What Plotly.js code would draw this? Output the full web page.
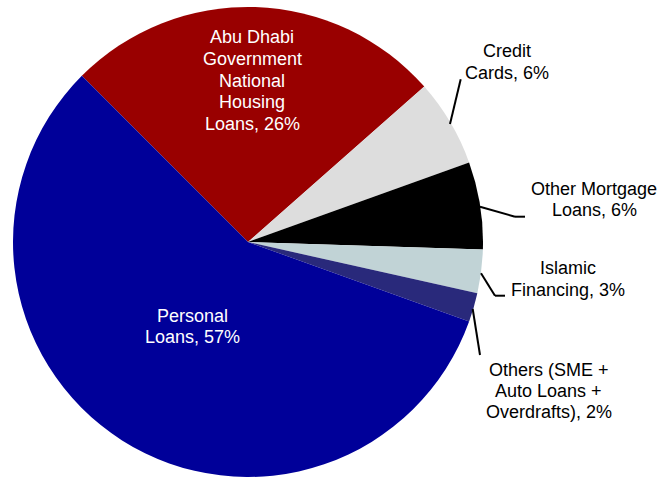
<!DOCTYPE html>
<html>
<head>
<meta charset="utf-8">
<script src="https://cdn.plot.ly/plotly-3.0.1.min.js"></script>
<style>html,body{margin:0;padding:0;background:#fff;}#chart{width:660px;height:477px;}</style>
</head>
<body>
<div id="chart"></div>
<script>
// ---- data ----
var categories = [
  "Abu Dhabi Government National Housing Loans",
  "Credit Cards",
  "Other Mortgage Loans",
  "Islamic Financing",
  "Others (SME + Auto Loans + Overdrafts)",
  "Personal Loans"
];
var shares = [26, 6, 6, 3, 2, 57];
var sliceColors = ["#990000", "#DDDDDD", "#000000", "#C1D3D6", "#29297B", "#000099"];
// label lines as shown on the chart (last line gets the percentage appended)
var labelLines = [
  ["Abu Dhabi", "Government", "National", "Housing", "Loans"],
  ["Credit", "Cards"],
  ["Other Mortgage", "Loans"],
  ["Islamic", "Financing"],
  ["Others (SME +", "Auto Loans +", "Overdrafts)"],
  ["Personal", "Loans"]
];

// ---- layout helpers (pixel positions of labels / leader lines) ----
var W = 660, H = 477;
function px(x) { return x / W; }
function py(y) { return 1 - y / H; }

// label anchor: [center x, first line cap-center y, line step, color]
var labelPos = [
  [252, 37.3, 21.6, "#ffffff"],
  [507, 51.2, 21.8, "#000000"],
  [594, 188.8, 20.9, "#000000"],
  [568, 268.3, 21.4, "#000000"],
  [548.5, 370, 20.9, "#000000"],
  [192, 315.5, 21.5, "#ffffff"]
];
var leaders = [
  null,
  [[450, 124], [460.7, 79.3]],
  [[480, 206.7], [515, 216.7], [525, 216.7]],
  [[481, 273.3], [495, 295.7], [505, 295.7]],
  [[472.7, 309], [480, 355]],
  null
];

var annotations = [];
for (var i = 0; i < categories.length; i++) {
  var lines = labelLines[i].slice();
  lines[lines.length - 1] = lines[lines.length - 1] + ", " + shares[i] + "%";
  var p = labelPos[i];
  for (var j = 0; j < lines.length; j++) {
    annotations.push({
      xref: "paper", yref: "paper",
      x: px(p[0]), y: py(p[1] + j * p[2]),
      xanchor: "center", yanchor: "middle",
      text: lines[j], showarrow: false,
      font: {family: "Arial, 'Liberation Sans', sans-serif", size: 18, color: p[3]}
    });
  }
}
var shapes = [];
leaders.forEach(function (pts) {
  if (!pts) return;
  for (var k = 0; k < pts.length - 1; k++) {
    shapes.push({
      type: "line", xref: "paper", yref: "paper",
      x0: px(pts[k][0]), y0: py(pts[k][1]),
      x1: px(pts[k + 1][0]), y1: py(pts[k + 1][1]),
      line: {color: "#000000", width: 2}
    });
  }
});

var trace = {
  type: "pie",
  labels: categories,
  values: shares,
  sort: false,
  direction: "clockwise",
  rotation: -45,
  marker: {colors: sliceColors, line: {width: 0}},
  textinfo: "none",
  hoverinfo: "label+percent",
  domain: {x: [13 / W, 483 / W], y: [0, 470 / H]},
  showlegend: false
};

var layout = {
  width: W, height: H,
  margin: {l: 0, r: 0, t: 0, b: 0},
  paper_bgcolor: "#ffffff",
  plot_bgcolor: "#ffffff",
  showlegend: false,
  annotations: annotations,
  shapes: shapes
};

Plotly.newPlot("chart", [trace], layout, {displayModeBar: false, staticPlot: true});
</script>
</body>
</html>
